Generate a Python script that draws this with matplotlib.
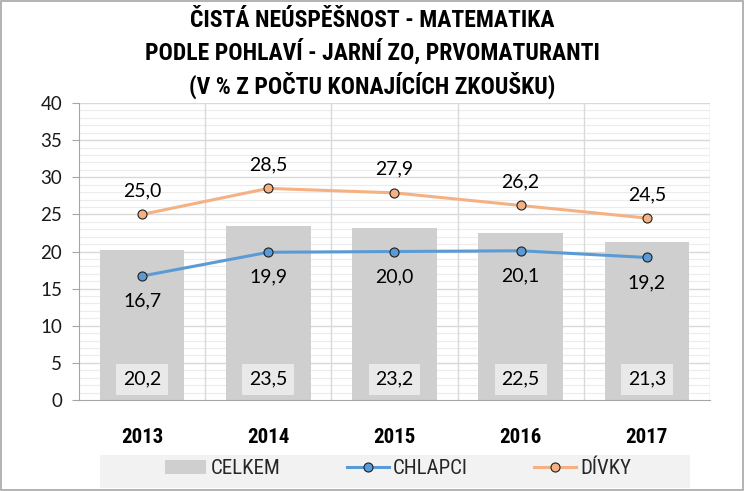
import matplotlib
matplotlib.use("Agg")
import matplotlib.pyplot as plt
from matplotlib.patches import Rectangle
from matplotlib.lines import Line2D
from matplotlib.patches import Patch

years = ["2013", "2014", "2015", "2016", "2017"]
celkem = [20.2, 23.5, 23.2, 22.5, 21.3]
chlapci = [16.7, 19.9, 20.0, 20.1, 19.2]
divky = [25.0, 28.5, 27.9, 26.2, 24.5]
title = "ČISTÁ NEÚSPĚŠNOST - MATEMATIKA\nPODLE POHLAVÍ - JARNÍ ZO, PRVOMATURANTI\n(V % Z POČTU KONAJÍCÍCH ZKOUŠKU)"

COND = ["Roboto Condensed", "Open Sans Condensed", "DejaVu Sans"]
REG = ["Lato", "DejaVu Sans"]
plt.rcParams['font.family'] = REG

fig = plt.figure(figsize=(7.44, 4.91), dpi=100)
fig.patch.set_facecolor("white")
fig.add_artist(Rectangle((0.002, 0.002), 0.996, 0.996, transform=fig.transFigure,
                         fill=False, edgecolor="#a6a6a6", linewidth=1.2))

ax = fig.add_axes([0.1062, 0.1853, 0.848, 0.6049])
x = list(range(len(years)))
ax.set_xlim(-0.5, len(years) - 0.5)
ax.set_ylim(0, 40)

# gridlines
for v in range(0, 41):
    if v % 5 != 0:
        ax.axhline(v, color="#ececec", linewidth=0.8, zorder=0)
for v in range(5, 41, 5):
    ax.axhline(v, color="#d9d9d9", linewidth=1.0, zorder=0)
for b in [i + 0.5 for i in range(len(years))]:
    ax.axvline(b, color="#d9d9d9", linewidth=1.0, zorder=0)

mk = dict(marker="o", markersize=6.5, markeredgecolor="#1f1f1f", markeredgewidth=0.8)
ax.bar(x, celkem, width=0.67, color="#cfcfcf", zorder=1)
ax.plot(x, chlapci, color="#5b9bd5", linewidth=2.2, markerfacecolor="#5b9bd5", zorder=3, **mk)
ax.plot(x, divky, color="#f4b183", linewidth=2.2, markerfacecolor="#f4b183", zorder=3, **mk)

def fmt(v):
    return f"{v:.1f}".replace(".", ",")

for i in x:
    ax.text(i, 2.8, fmt(celkem[i]), ha="center", va="center", fontsize=14, zorder=4,
            bbox=dict(boxstyle="square,pad=0.35", facecolor="#e9e9e9", edgecolor="none"))
    ax.annotate(fmt(chlapci[i]), (i, chlapci[i]), xytext=(0, -18), textcoords="offset points",
                ha="center", va="center", fontsize=14, zorder=4)
    ax.annotate(fmt(divky[i]), (i, divky[i]), xytext=(0, 17), textcoords="offset points",
                ha="center", va="center", fontsize=14, zorder=4)

ax.set_yticks(range(0, 41, 5))
ax.set_xticks(x)
ax.set_xticklabels(years, fontsize=15, fontweight="bold", family=COND)
ax.tick_params(axis="x", length=0, pad=20)
ax.tick_params(axis="y", length=5, color="#a6a6a6", labelsize=13.5, labelcolor="#1a1a1a", pad=7)
for s in ["top", "right"]:
    ax.spines[s].set_visible(False)
ax.spines["left"].set_color("#a6a6a6")
ax.spines["bottom"].set_color("#a6a6a6")

fig.text(0.50, 0.89, title, ha="center", va="center", fontsize=17, fontweight="bold",
         family=COND, linespacing=1.3)

# legend background
fig.add_artist(Rectangle((100 / 744, 1 - 488 / 491), 590 / 744, 33 / 491, transform=fig.transFigure,
                         facecolor="#f2f2f2", edgecolor="none", zorder=0))
handles = [Patch(facecolor="#cfcfcf", edgecolor="none"),
           Line2D([0], [0], color="#5b9bd5", linewidth=2.2, markerfacecolor="#5b9bd5", **mk),
           Line2D([0], [0], color="#f4b183", linewidth=2.2, markerfacecolor="#f4b183", **mk)]
leg = fig.legend(handles, ["CELKEM", "CHLAPCI", "DÍVKY"], loc="center", bbox_to_anchor=(0.535, 0.045),
                 ncol=3, frameon=False, columnspacing=3.2, handlelength=2.0, handletextpad=0.2,
                 prop={"family": COND, "size": 15})
for t in leg.get_texts():
    t.set_color("#262626")

fig.savefig("out.png", dpi=100)
